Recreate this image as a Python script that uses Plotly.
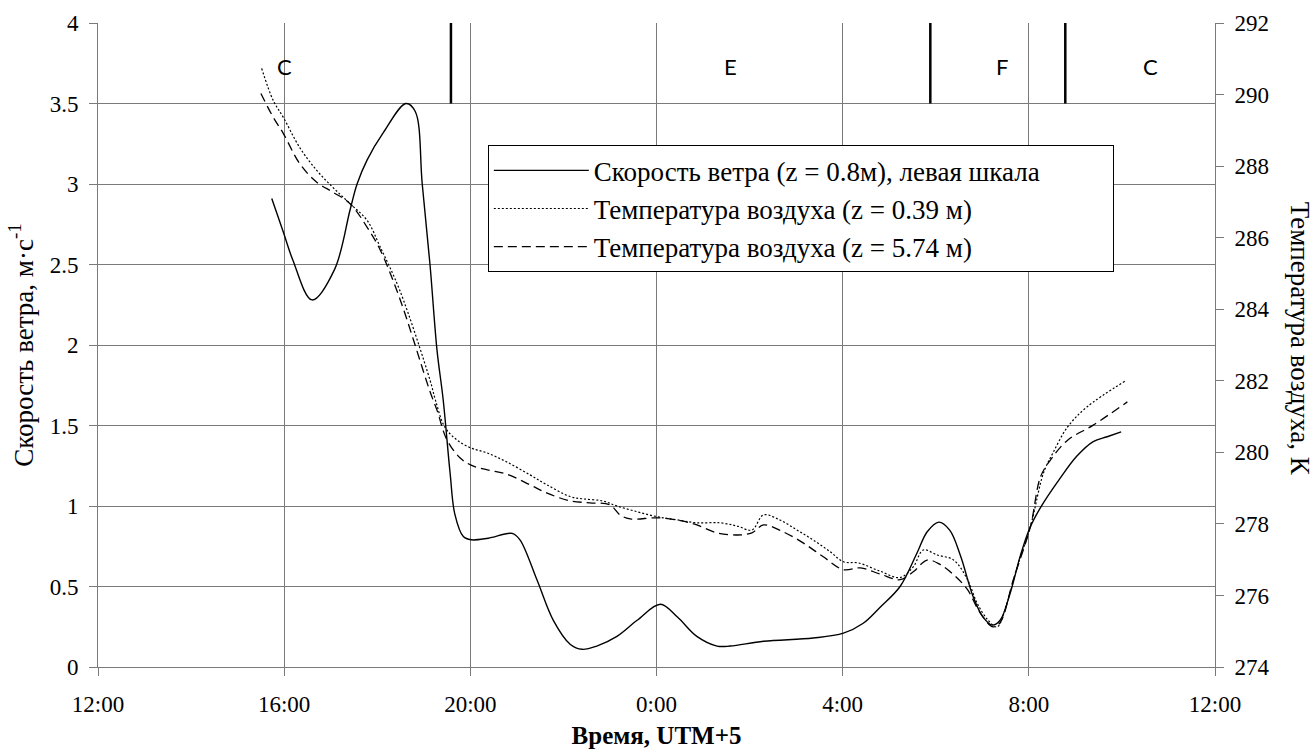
import datetime as dt
import plotly.graph_objects as go

# ---------------- data ----------------
wind_time = ["15:44", "15:59", "16:11", "16:36", "17:05", "17:25", "17:34", "17:47", "18:08", "18:37",
             "18:49", "18:58", "19:08", "19:17", "19:25", "19:34", "19:40", "19:51", "20:01", "20:23",
             "20:54", "21:04", "21:26", "21:47", "22:09", "22:24", "22:43", "23:09", "23:35", "00:05",
             "00:27", "00:52", "01:18", "01:35", "02:18", "03:22", "04:01", "04:26", "04:48", "05:14",
             "05:36", "05:49", "06:04", "06:18", "06:32", "06:48", "07:01", "07:13", "07:23", "07:36",
             "07:49", "08:01", "08:15", "08:40", "09:02", "09:23", "09:41", "09:59"]
wind_speed = [2.91, 2.70, 2.53, 2.28, 2.47, 2.84, 3.00, 3.15, 3.32, 3.50,
              3.45, 3.00, 2.50, 1.97, 1.66, 1.20, 0.95, 0.81, 0.79, 0.80,
              0.83, 0.79, 0.54, 0.29, 0.14, 0.11, 0.13, 0.19, 0.29, 0.39,
              0.31, 0.19, 0.13, 0.13, 0.16, 0.18, 0.21, 0.27, 0.37, 0.50,
              0.71, 0.84, 0.90, 0.85, 0.69, 0.44, 0.31, 0.26, 0.29, 0.46,
              0.69, 0.86, 0.99, 1.17, 1.31, 1.40, 1.43, 1.46]

t039_time = ["15:31", "15:46", "15:59", "16:20", "16:42", "17:03", "17:25", "17:47", "18:04", "18:29",
             "19:08", "19:15", "19:27", "19:43", "20:01", "20:22", "20:47", "21:17", "21:39", "22:09",
             "22:25", "22:51", "23:09", "23:35", "00:01", "00:27", "00:52", "01:22", "01:44", "02:03",
             "02:18", "02:39", "03:01", "03:22", "03:44", "04:01", "04:20", "04:48", "05:14", "05:31",
             "05:44", "06:02", "06:23", "06:41", "06:53", "07:07", "07:19", "07:32", "07:45", "08:02",
             "08:19", "08:31", "08:50", "09:15", "10:04"]
t039_temp = [290.73, 289.83, 289.36, 288.52, 287.88, 287.40, 286.95, 286.48, 285.73, 284.53,
             282.02, 281.46, 280.71, 280.34, 280.12, 279.98, 279.73, 279.37, 279.09, 278.76,
             278.70, 278.64, 278.50, 278.34, 278.20, 278.11, 278.03, 278.03, 277.94, 277.83,
             278.25, 278.11, 277.83, 277.55, 277.22, 276.94, 276.91, 276.68, 276.50, 276.80,
             277.27, 277.13, 276.99, 276.44, 275.80, 275.32, 275.12, 275.80, 276.80, 277.92,
             279.43, 279.98, 280.71, 281.27, 281.99]

t574_time = ["15:30", "15:46", "15:59", "16:20", "16:42", "17:03", "17:25", "17:47", "18:04", "18:29",
             "19:08", "19:17", "19:30", "19:47", "20:01", "20:22", "20:47", "21:17", "21:39", "22:09",
             "22:34", "23:00", "23:13", "23:26", "00:01", "00:31", "00:52", "01:18", "01:44", "02:03",
             "02:18", "02:43", "03:09", "03:35", "04:01", "04:23", "04:48", "05:14", "05:31", "05:49",
             "06:06", "06:23", "06:41", "06:57", "07:14", "07:23", "07:40", "08:02", "08:15", "08:28",
             "08:50", "09:23", "10:07"]
t574_temp = [290.03, 289.36, 288.91, 288.07, 287.55, 287.27, 286.95, 286.29, 285.65, 284.30,
             281.70, 281.18, 280.34, 279.84, 279.64, 279.51, 279.39, 279.09, 278.86, 278.64,
             278.59, 278.53, 278.25, 278.14, 278.17, 278.09, 277.97, 277.75, 277.69, 277.75,
             277.97, 277.78, 277.47, 277.08, 276.72, 276.77, 276.60, 276.44, 276.66, 276.99,
             276.86, 276.58, 276.16, 275.52, 275.12, 275.24, 276.44, 277.92, 279.31, 279.79,
             280.34, 280.76, 281.41]

regime_bounds = ["19:35", "05:53", "08:47"]
regime_labels = ["C", "E", "F", "C"]
regime_label_times = ["16:01", "01:36", "07:26", "10:37"]

series_names = ["Скорость ветра (z = 0.8м), левая шкала",
                "Температура воздуха (z = 0.39 м)",
                "Температура воздуха (z = 5.74 м)"]


def to_dt(s):
    h, m = map(int, s.split(":"))
    day = 1 if h >= 12 else 2
    return dt.datetime(2000, 1, day, h, m)


SERIF = "Liberation Serif, Times New Roman, serif"
GRID = "#7a7a7a"
NBSP = "\u00a0"
TICKFONT = dict(family=SERIF, size=23, color="black")

fig = go.Figure()
fig.add_trace(go.Scatter(x=[to_dt(s) for s in wind_time], y=wind_speed,
                         name=series_names[0] + NBSP * 10,
                         mode="lines", line=dict(color="black", width=1.4, shape="spline"),
                         legendgroup="a"))
fig.add_trace(go.Scatter(x=[to_dt(s) for s in t039_time], y=t039_temp, name=series_names[1],
                         mode="lines", line=dict(color="black", width=1.2, dash="2px,2px", shape="spline"),
                         yaxis="y2", legendgroup="b"))
fig.add_trace(go.Scatter(x=[to_dt(s) for s in t574_time], y=t574_temp, name=series_names[2],
                         mode="lines", line=dict(color="black", width=1.3, dash="9px,5px", shape="spline"),
                         yaxis="y2", legendgroup="c"))

# regime band separators and labels
for b in regime_bounds:
    fig.add_shape(type="line", xref="x", yref="y", x0=to_dt(b), x1=to_dt(b), y0=3.5, y1=4,
                  line=dict(color="black", width=2.5))
for lab, t in zip(regime_labels, regime_label_times):
    fig.add_annotation(x=to_dt(t), y=3.73, xref="x", yref="y", text=lab, showarrow=False,
                       font=dict(family="Lato", size=22, color="black"))

# right axis title reading top-to-bottom
fig.add_annotation(x=1.092, y=0.51, xref="paper", yref="paper", text="Температура воздуха, К",
                   textangle=90, showarrow=False, font=dict(family=SERIF, size=27, color="black"))

fig.update_layout(
    width=1316, height=749,
    margin=dict(l=98, r=101, t=23, b=82),
    paper_bgcolor="white", plot_bgcolor="white",
    font=dict(family=SERIF, size=23, color="black"),
    xaxis=dict(range=[dt.datetime(2000, 1, 1, 12), dt.datetime(2000, 1, 2, 12)],
               tick0=dt.datetime(2000, 1, 1, 12), dtick=4 * 3600 * 1000, tickformat="%-H:%M",
               showgrid=True, gridcolor=GRID, gridwidth=1, showline=True, linecolor=GRID,
               ticks="outside", ticklen=8, tickcolor=GRID, zeroline=False, ticklabelstandoff=8,
               tickfont=TICKFONT, automargin=False,
               title=dict(text="<b>Время, UTM+5</b>", font=dict(family=SERIF, size=25), standoff=10)),
    yaxis=dict(range=[0, 4], dtick=0.5, showgrid=True, gridcolor=GRID, gridwidth=1,
               showline=True, linecolor=GRID, ticks="outside", ticklen=8, tickcolor=GRID,
               zeroline=False, tickformat="~g", ticklabelstandoff=6, tickfont=TICKFONT,
               automargin=False,
               title=dict(text="Скорость ветра, м·с<sup>-1</sup>", font=dict(family=SERIF, size=27),
                          standoff=8)),
    yaxis2=dict(range=[274, 292], dtick=2, overlaying="y", side="right", showgrid=False,
                showline=True, linecolor=GRID, ticks="outside", ticklen=8, tickcolor=GRID,
                zeroline=False, ticklabelstandoff=6, tickfont=TICKFONT, automargin=False),
    legend=dict(x=0.349, y=0.81, xanchor="left", yanchor="top", bordercolor="black", borderwidth=1,
                bgcolor="white", font=dict(family=SERIF, size=27), traceorder="grouped",
                tracegroupgap=0, itemwidth=95),
    showlegend=True,
)

fig.write_html("out.html")
